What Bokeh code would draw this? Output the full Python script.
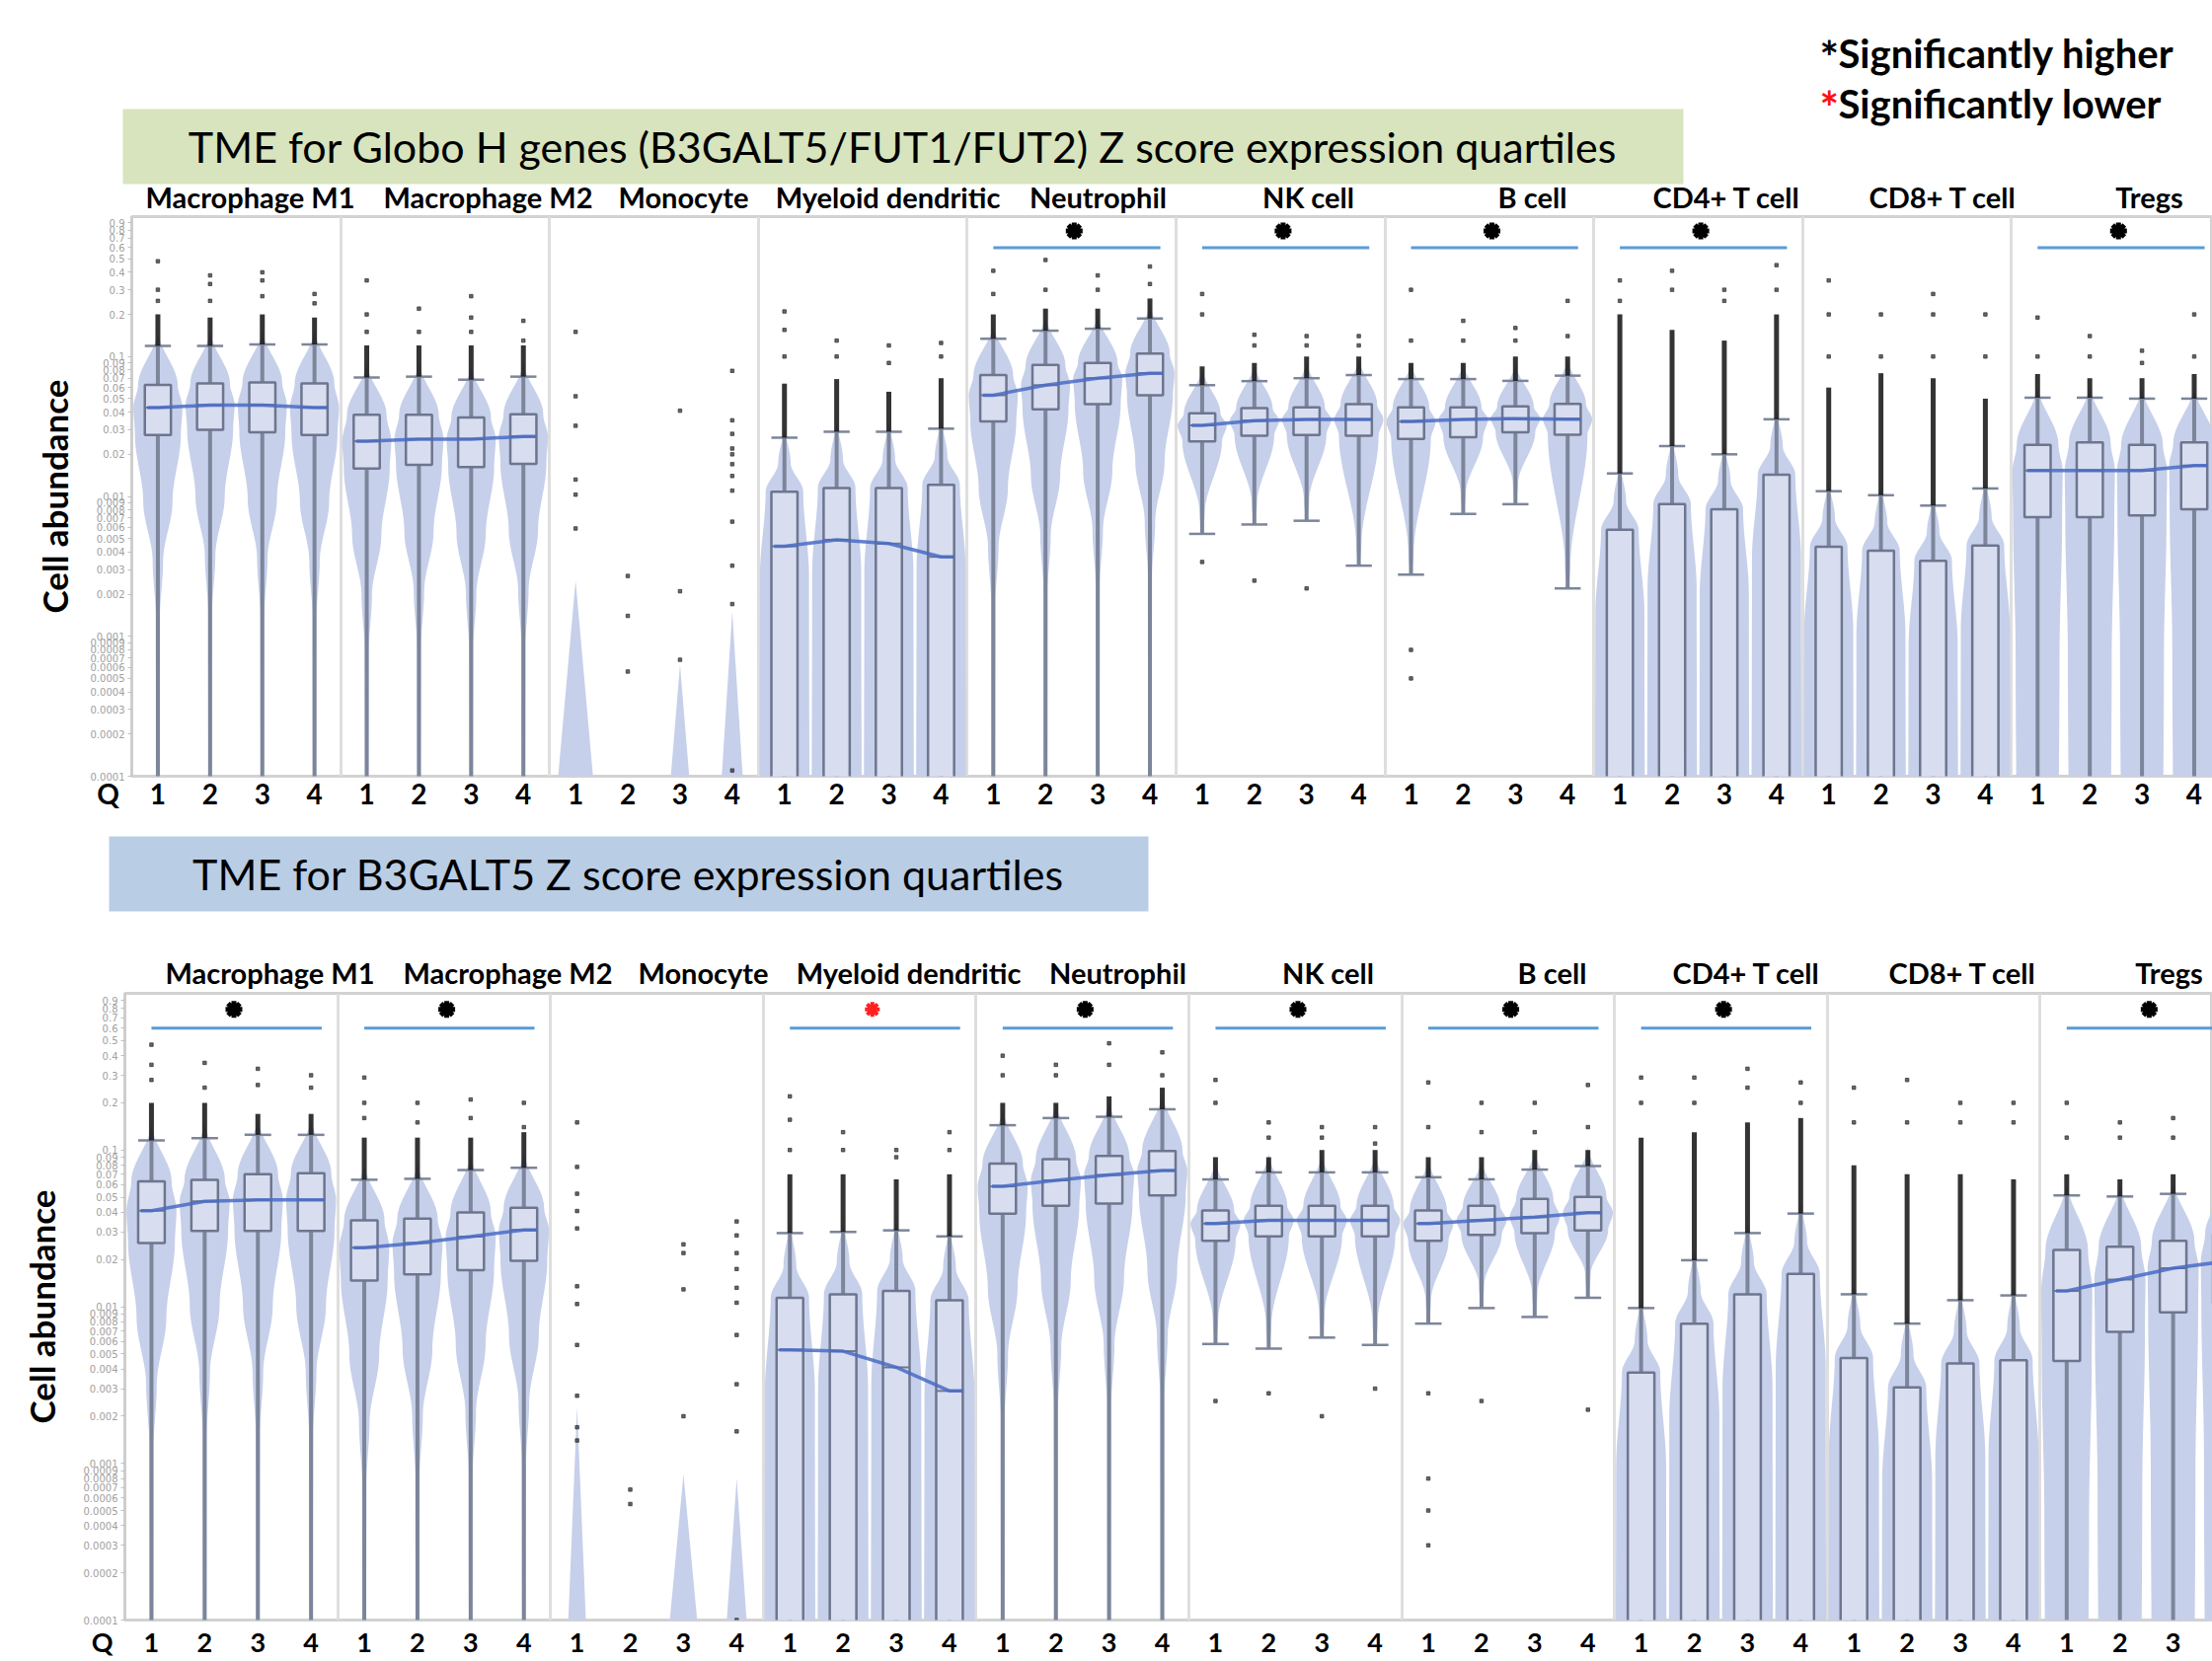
import numpy as np
from bokeh.plotting import figure
from bokeh.layouts import column
from bokeh.models import (Range1d, FixedTicker, CustomJSTickFormatter, ColumnDataSource, Grid)
from bokeh.embed import file_html
from bokeh.resources import INLINE
from bokeh.core.properties import value

# ---------------------------------------------------------------- data
cell_types = ["Macrophage M1", "Macrophage M2", "Monocyte", "Myeloid dendritic", "Neutrophil",
              "NK cell", "B cell", "CD4+ T cell", "CD8+ T cell", "Tregs"]
quartiles = ["1", "2", "3", "4"]
violin_kind = ["bell", "bell", "spike", "column", "bell", "diamond", "diamond", "column", "column", "broad"]

title_top = "TME for Globo H genes (B3GALT5/FUT1/FUT2) Z score expression quartiles"
title_bot = "TME for B3GALT5 Z score expression quartiles"
legend_texts = ["Significantly higher", "Significantly lower"]

# significance per cell type: 1 = significantly higher, -1 = significantly lower, 0 = none
sig_top = [0, 0, 0, 0, 1, 1, 1, 1, 0, 1]
sig_bot = [1, 1, 0, -1, 1, 1, 1, 1, 0, 1]

LOW = 1e-5  # below the axis floor (box / whisker runs off the bottom)

# ---- top panel (Globo H genes) : 10 cell types x 4 quartiles
top_q3 = [0.0626, 0.0643, 0.0654, 0.0643,
          0.0383, 0.0383, 0.0367, 0.0387,
          None, None, None, None,
          0.0108, 0.0115, 0.0115, 0.0121,
          0.0737, 0.087, 0.090, 0.105,
          0.0393, 0.0428, 0.0434, 0.0457,
          0.0434, 0.0434, 0.0440, 0.0459,
          0.00577, 0.0088, 0.0081, 0.0143,
          0.00436, 0.0041, 0.00347, 0.00446,
          0.0234, 0.0243, 0.0234, 0.0243]
top_q1 = [0.0275, 0.0299, 0.0287, 0.0275,
          0.0158, 0.0168, 0.0162, 0.0171,
          None, None, None, None,
          LOW, LOW, LOW, LOW,
          0.0344, 0.042, 0.0457, 0.0528,
          0.0247, 0.0272, 0.0275, 0.0272,
          0.0258, 0.0265, 0.0288, 0.0276,
          LOW, LOW, LOW, LOW,
          LOW, LOW, LOW, LOW,
          0.0071, 0.0071, 0.0073, 0.0081]
top_med = [0.0432, 0.045, 0.045, 0.0432,
           0.0248, 0.0257, 0.0257, 0.0268,
           None, None, None, None,
           0.0044, 0.0049, 0.0046, 0.0037,
           0.0529, 0.0624, 0.070, 0.076,
           0.0322, 0.0348, 0.0355, 0.0355,
           0.0343, 0.0355, 0.036, 0.0356,
           None, None, None, None,
           None, None, None, None,
           0.0153, 0.0153, 0.0153, 0.0166]
top_hi = [0.119, 0.119, 0.122, 0.122,
          0.0708, 0.0718, 0.0683, 0.0718,
          None, None, None, None,
          0.0263, 0.029, 0.029, 0.0305,
          0.134, 0.153, 0.158, 0.187,
          0.0624, 0.0667, 0.070, 0.0737,
          0.069, 0.069, 0.067, 0.073,
          0.0146, 0.0229, 0.020, 0.0356,
          0.0109, 0.0102, 0.0086, 0.0114,
          0.0508, 0.0508, 0.050, 0.050]
top_lo = [LOW, LOW, LOW, LOW,
          LOW, LOW, LOW, LOW,
          None, None, None, None,
          LOW, LOW, LOW, LOW,
          LOW, LOW, LOW, LOW,
          0.0054, 0.0063, 0.0067, 0.0032,
          0.00276, 0.0075, 0.0088, 0.0022,
          LOW, LOW, LOW, LOW,
          LOW, LOW, LOW, LOW,
          LOW, LOW, LOW, LOW]
top_dense = [0.2, 0.19, 0.2, 0.19,
             0.12, 0.12, 0.12, 0.12,
             None, None, None, None,
             0.064, 0.069, 0.056, 0.07,
             0.2, 0.22, 0.22, 0.26,
             0.085, 0.09, 0.1, 0.1,
             0.09, 0.09, 0.1, 0.1,
             0.2, 0.155, 0.13, 0.2,
             0.06, 0.076, 0.07, 0.05,
             0.075, 0.07, 0.07, 0.075]
top_sparse = [[0.25, 0.3, 0.48], [0.25, 0.33, 0.38], [0.27, 0.35, 0.4], [0.24, 0.28],
              [0.15, 0.2, 0.35], [0.15, 0.22], [0.15, 0.19, 0.27], [0.13, 0.18],
              [0.15, 0.052, 0.032, 0.0132, 0.0103, 0.0059], [0.0027, 0.0014, 0.00056],
              [0.041, 0.0021, 0.00068],
              [0.079, 0.035, 0.028, 0.022, 0.02, 0.017, 0.014, 0.011, 0.0066, 0.0032, 0.0017, 0.00011],
              [0.1, 0.155, 0.21], [0.1, 0.13], [0.09, 0.12], [0.1, 0.125],
              [0.28, 0.41], [0.3, 0.49], [0.3, 0.38], [0.33, 0.44],
              [0.2, 0.28, 0.0034], [0.12, 0.143, 0.0025], [0.12, 0.14, 0.0022], [0.12, 0.14],
              [0.13, 0.3, 0.0008, 0.0005], [0.13, 0.18], [0.13, 0.16], [0.14, 0.25],
              [0.25, 0.35], [0.3, 0.41], [0.25, 0.3], [0.3, 0.45],
              [0.1, 0.2, 0.35], [0.1, 0.2], [0.1, 0.2, 0.28], [0.1, 0.2],
              [0.1, 0.19], [0.1, 0.14], [0.09, 0.11], [0.1, 0.2]]
top_mono_peak = [0.0025, None, 0.00063, 0.0015]
top_mono_width = [0.5, 0.0, 0.33, 0.32]

# ---- bottom panel (B3GALT5)
bot_q3 = [0.063, 0.0646, 0.070, 0.071,
          0.0356, 0.0365, 0.040, 0.0428,
          None, None, None, None,
          0.0114, 0.0120, 0.0126, 0.011,
          0.0818, 0.0875, 0.0917, 0.0987,
          0.0411, 0.044, 0.044, 0.044,
          0.0411, 0.044, 0.0487, 0.0503,
          0.0038, 0.0078, 0.012, 0.0162,
          0.0047, 0.00305, 0.00435, 0.00455,
          0.023, 0.0241, 0.0263, 0.029]
bot_q1 = [0.0255, 0.0304, 0.0304, 0.0304,
          0.0147, 0.0161, 0.0171, 0.0196,
          None, None, None, None,
          LOW, LOW, LOW, LOW,
          0.0393, 0.044, 0.0455, 0.0513,
          0.0263, 0.0281, 0.0281, 0.0281,
          0.0263, 0.0287, 0.0295, 0.0307,
          LOW, LOW, LOW, LOW,
          LOW, LOW, LOW, LOW,
          0.0045, 0.0069, 0.0092, 0.0105]
bot_med = [0.041, 0.047, 0.048, 0.048,
           0.0238, 0.0255, 0.028, 0.0309,
           None, None, None, None,
           0.0053, 0.0052, 0.0041, 0.0029,
           0.0586, 0.064, 0.0693, 0.074,
           0.0339, 0.0356, 0.0356, 0.0356,
           0.0339, 0.0356, 0.0373, 0.0398,
           None, None, None, None,
           None, None, None, None,
           0.0126, 0.0149, 0.0176, 0.0195]
bot_hi = [0.115, 0.119, 0.125, 0.125,
          0.0646, 0.0655, 0.0745, 0.077,
          None, None, None, None,
          0.0295, 0.030, 0.0307, 0.0281,
          0.144, 0.16, 0.163, 0.182,
          0.0649, 0.072, 0.072, 0.072,
          0.067, 0.065, 0.075, 0.079,
          0.0098, 0.0198, 0.0295, 0.0393,
          0.012, 0.0078, 0.011, 0.0118,
          0.0513, 0.0505, 0.0525, 0.055]
bot_lo = [LOW, LOW, LOW, LOW,
          LOW, LOW, LOW, LOW,
          None, None, None, None,
          LOW, LOW, LOW, LOW,
          LOW, LOW, LOW, LOW,
          0.00578, 0.0054, 0.00635, 0.0057,
          0.0078, 0.0098, 0.0086, 0.0114,
          LOW, LOW, LOW, LOW,
          LOW, LOW, LOW, LOW,
          LOW, LOW, LOW, LOW]
bot_dense = [0.2, 0.2, 0.17, 0.17,
             0.12, 0.12, 0.12, 0.13,
             None, None, None, None,
             0.07, 0.07, 0.065, 0.07,
             0.2, 0.2, 0.22, 0.25,
             0.09, 0.09, 0.1, 0.1,
             0.09, 0.09, 0.1, 0.1,
             0.12, 0.13, 0.15, 0.16,
             0.08, 0.07, 0.07, 0.065,
             0.07, 0.065, 0.07, 0.07]
bot_sparse = [[0.28, 0.35, 0.47], [0.25, 0.36], [0.26, 0.33], [0.25, 0.3],
              [0.16, 0.2, 0.29], [0.15, 0.2], [0.16, 0.21], [0.14, 0.2],
              [0.15, 0.078, 0.0526, 0.0408, 0.0316, 0.0135, 0.0104, 0.0057, 0.0027, 0.0017, 0.0014],
              [0.00068, 0.00055], [0.025, 0.022, 0.0129, 0.002],
              [0.035, 0.0285, 0.022, 0.0174, 0.0132, 0.0106, 0.0066, 0.0032, 0.0016, 0.0001],
              [0.1, 0.156, 0.22], [0.1, 0.13], [0.09, 0.1], [0.1, 0.13],
              [0.3, 0.4], [0.3, 0.35], [0.35, 0.48], [0.3, 0.42],
              [0.2, 0.28, 0.0025], [0.12, 0.15, 0.0028], [0.12, 0.14, 0.002], [0.11, 0.14, 0.003],
              [0.14, 0.27, 0.0028, 0.0008, 0.0005, 0.0003], [0.13, 0.2, 0.0025], [0.13, 0.2], [0.14, 0.26, 0.0022],
              [0.2, 0.29], [0.2, 0.29], [0.25, 0.33], [0.2, 0.27],
              [0.15, 0.25], [0.15, 0.28], [0.15, 0.2], [0.15, 0.2],
              [0.12, 0.2], [0.12, 0.15], [0.12, 0.16], [0.12, 0.18]]
bot_mono_peak = [0.0023, None, 0.00085, 0.0008]
bot_mono_width = [0.25, 0.0, 0.45, 0.33]

sig_bar_value = 0.6
sig_star_value = 0.79

# ---------------------------------------------------------------- layout / style
FONT = "Lato"
W = 2241
VIOLIN = "#c6d0ea"
BOXFILL = "#d8def0"
BOXLINE = "#6d768e"
WHISK = "#7c859a"
TREND = "#4a6bc4"
SIGLINE = "#5b9bd5"


def header_fig(h):
    p = figure(width=W, height=h, x_range=Range1d(0, W), y_range=Range1d(h, 0),
               x_axis_location=None, y_axis_location=None, output_backend="svg",
               toolbar_location=None, min_border=0, frame_align=False)
    p.grid.visible = False
    p.outline_line_color = None
    return p


def smooth_profile(knots, n=14):
    ys, ws = [], []
    for (v0, w0), (v1, w1) in zip(knots[:-1], knots[1:]):
        l0, l1 = np.log10(v0), np.log10(v1)
        for t in np.linspace(0, 1, n, endpoint=False):
            s = t * t * (3 - 2 * t)
            ys.append(10 ** (l0 + (l1 - l0) * t))
            ws.append(w0 + (w1 - w0) * s)
    ys.append(knots[-1][0])
    ws.append(knots[-1][1])
    return ys, ws


def knots_for(kind, q1, med, q3, hi, lo):
    if kind == "bell":
        return [(hi * 1.3, 0.0), (q3, 0.38), (med, 0.47), (q1, 0.44), (q1 / 3, 0.28),
                (q1 / 8, 0.1), (q1 / 20, 0.04), (2e-5, 0.03)]
    if kind == "diamond":
        return [(hi * 1.35, 0.0), (q3, 0.35), (med, 0.47), (q1, 0.38), (lo * 1.4, 0.05), (lo, 0.02)]
    if kind == "broad":
        return [(hi * 1.25, 0.0), (q3, 0.4), (med, 0.48), (q1, 0.47), (q1 / 10, 0.42), (2e-5, 0.40)]
    # column
    return [(hi * 1.25, 0.0), (q3 * 1.6, 0.12), (q3, 0.36), (q3 / 4, 0.47), (2e-5, 0.48)]


def panel(frame_h, xmax, left, bottom_border, label_size, standoff, ylabel_standoff,
          q3s, q1s, meds, his, los, dense, sparse, mono_peak, mono_width, sig):
    p = figure(width=W, height=2 + frame_h + bottom_border, x_range=Range1d(0, xmax),
               y_range=Range1d(1e-4, 1), y_axis_type="log", output_backend="svg",
               toolbar_location=None, min_border_left=left, min_border_right=0,
               min_border_top=2, min_border_bottom=bottom_border, frame_align=False)
    p.outline_line_color = "#d2d2d2"
    p.outline_line_width = 3
    p.grid.visible = False
    p.add_layout(Grid(dimension=0, ticker=FixedTicker(ticks=[4 * g for g in range(1, 10)]),
                      grid_line_color="#dedede", grid_line_width=3))

    # x axis: quartile numbers (the first tick, at the frame edge, carries the "Q")
    p.xaxis.ticker = FixedTicker(ticks=[0.0] + [i + 0.5 for i in range(40) if i + 0.5 < xmax])
    p.xaxis.formatter = CustomJSTickFormatter(code="""
        if (tick < 0.25) { return "Q\u00a0\u00a0\u00a0\u00a0\u00a0\u00a0\u00a0"; }
        return String(Math.floor(tick) % 4 + 1);""")
    p.xaxis.axis_line_color = None
    p.xaxis.major_tick_line_color = None
    p.xaxis.minor_tick_line_color = None
    p.xaxis.major_tick_out = 0
    p.xaxis.major_tick_in = 0
    p.xaxis.major_label_standoff = standoff
    p.xaxis.major_label_text_font = FONT
    p.xaxis.major_label_text_font_style = "bold"
    p.xaxis.major_label_text_font_size = label_size
    p.xaxis.major_label_text_color = "black"

    # y axis: log cell abundance
    yt = []
    for e in range(-4, 0):
        for k in range(1, 10):
            yt.append(k * 10.0 ** e)
    p.yaxis.ticker = FixedTicker(ticks=yt)
    p.yaxis.formatter = CustomJSTickFormatter(
        code="return String(parseFloat(tick.toPrecision(1)));")
    p.yaxis.major_label_text_font_size = "10px"
    p.yaxis.major_label_text_color = "#a0a0a0"
    p.yaxis.major_label_text_font = "DejaVu Sans"
    p.yaxis.major_tick_out = 4
    p.yaxis.major_tick_in = 0
    p.yaxis.major_tick_line_color = "#c0c0c0"
    p.yaxis.minor_tick_line_color = None
    p.yaxis.axis_line_color = "#cccccc"
    p.yaxis.axis_line_width = 2
    p.yaxis.major_label_standoff = 3
    p.yaxis.axis_label = "Cell abundance"
    p.yaxis.axis_label_text_font = FONT
    p.yaxis.axis_label_text_font_style = "bold"
    p.yaxis.axis_label_text_font_size = "35px"
    p.yaxis.axis_label_text_color = "black"
    p.yaxis.axis_label_standoff = ylabel_standoff

    # violins
    vx, vy = [], []
    for g, kind in enumerate(violin_kind):
        for q in range(4):
            i = 4 * g + q
            c = i + 0.5
            if kind == "spike":
                if mono_peak[q] is None:
                    continue
                w = mono_width[q]
                vx.append([c - w, c, c + w])
                vy.append([2e-5, mono_peak[q], 2e-5])
                continue
            ys, ws = smooth_profile(knots_for(kind, q1s[i], meds[i] if meds[i] else q3s[i] / 2,
                                              q3s[i], his[i], los[i]))
            vx.append([c - w for w in ws] + [c + w for w in ws[::-1]])
            vy.append(ys + ys[::-1])
    p.patches(vx, vy, fill_color=VIOLIN, line_color=None)

    idx = [i for i in range(40) if q3s[i] is not None]
    cx = [i + 0.5 for i in idx]
    src = ColumnDataSource(dict(
        x=cx, xl=[c - 0.25 for c in cx], xr=[c + 0.25 for c in cx],
        q1=[q1s[i] for i in idx], q3=[q3s[i] for i in idx],
        hi=[his[i] for i in idx], lo=[los[i] for i in idx], dense=[dense[i] for i in idx]))
    p.segment(x0="x", y0="lo", x1="x", y1="hi", source=src, line_color=WHISK, line_width=4)
    p.segment(x0="xl", y0="hi", x1="xr", y1="hi", source=src, line_color=WHISK, line_width=2.5)
    capl = [i for i in idx if los[i] > 1e-4]
    p.segment(x0=[i + 0.25 for i in capl], y0=[los[i] for i in capl],
              x1=[i + 0.75 for i in capl], y1=[los[i] for i in capl],
              line_color=WHISK, line_width=2.5)
    p.quad(left="xl", right="xr", bottom="q1", top="q3", source=src,
           fill_color=BOXFILL, line_color=BOXLINE, line_width=2.5)
    medi = [i for i in idx if meds[i] is not None]
    p.segment(x0=[i + 0.25 for i in medi], y0=[meds[i] for i in medi],
              x1=[i + 0.75 for i in medi], y1=[meds[i] for i in medi],
              line_color=BOXLINE, line_width=2)
    for g in range(10):
        ii = [4 * g + q for q in range(4) if meds[4 * g + q] is not None]
        if len(ii) == 4:
            xs = [ii[0] + 0.3] + [i + 0.5 for i in ii] + [ii[-1] + 0.75]
            ys = [meds[ii[0]]] + [meds[i] for i in ii] + [meds[ii[-1]]]
            p.line(xs, ys, line_color=TREND, line_width=3.5, line_alpha=0.85)
    p.segment(x0="x", y0="hi", x1="x", y1="dense", source=src, line_color="#111111",
              line_width=5, line_alpha=0.85)
    ox, oy = [], []
    for i in range(40):
        for v in sparse[i]:
            ox.append(i + 0.5)
            oy.append(v)
    p.scatter(ox, oy, size=3.5, color="#333333", alpha=0.75, marker="square")
    for g, s in enumerate(sig):
        if s == 0:
            continue
        x0 = 4 * g + 0.5
        x1 = min(4 * g + 3.7, xmax)
        p.line([x0, x1], [sig_bar_value, sig_bar_value], line_color=SIGLINE, line_width=3)
        col = "black" if s > 0 else "#ff2020"
        p.scatter(x=[4 * g + 2.05], y=[sig_star_value], marker="asterisk",
                  size=17 if s > 0 else 15, line_color=col, line_width=5 if s > 0 else 4)
    return p


# ---------------------------------------------------------------- header (top)
h1 = header_fig(217)
h1.quad(left=[124], right=[1705], top=[110], bottom=[186], fill_color="#d7e4bd", line_color=None)
h1.text(x=[914], y=[148], text=[title_top], text_font=value(FONT), text_font_size="43px",
        text_align="center", text_baseline="middle", text_color="black")
h1.text(x=[1843, 1843], y=[57, 108], text=["*", "*"], text_color=["black", "#ff1010"],
        text_font=value(FONT), text_font_style="bold", text_font_size="46px",
        text_align="left", text_baseline="middle")
h1.text(x=[1862, 1862], y=[53, 104], text=legend_texts, text_color="black",
        text_font=value(FONT), text_font_style="bold", text_font_size="40px",
        text_align="left", text_baseline="middle")
top_label_x = [253, 494, 692, 899, 1112, 1325, 1552, 1749, 1968, 2177]
h1.text(x=top_label_x, y=[199] * 10, text=cell_types, text_font=value(FONT),
        text_font_style="bold", text_font_size="29px", text_align="center",
        text_baseline="middle", text_color="black")

# ---------------------------------------------------------------- top panel
p_top = panel(567, 39.85, 133, 40, "28px", 0, 13, top_q3, top_q1, top_med, top_hi, top_lo,
              top_dense, top_sparse, top_mono_peak, top_mono_width, sig_top)

# ---------------------------------------------------------------- middle header
h2 = header_fig(178)
h2.quad(left=[110], right=[1163], top=[21], bottom=[97], fill_color="#b9cde5", line_color=None)
h2.text(x=[636], y=[59], text=[title_bot], text_font=value(FONT), text_font_size="43px",
        text_align="center", text_baseline="middle", text_color="black")
bot_label_x = [273, 514, 712, 920, 1132, 1345, 1572, 1769, 1988, 2197]
h2.text(x=bot_label_x, y=[159] * 10, text=cell_types, text_font=value(FONT),
        text_font_style="bold", text_font_size="29px", text_align="center",
        text_baseline="middle", text_color="black")

# ---------------------------------------------------------------- bottom panel
p_bot = panel(637, 39.24, 126, 39, "27px", 5, 19, bot_q3, bot_q1, bot_med, bot_hi, bot_lo,
              bot_dense, bot_sparse, bot_mono_peak, bot_mono_width, sig_bot)

layout = column(h1, p_top, h2, p_bot, spacing=0)
open("out.html", "w").write(file_html(layout, INLINE))
